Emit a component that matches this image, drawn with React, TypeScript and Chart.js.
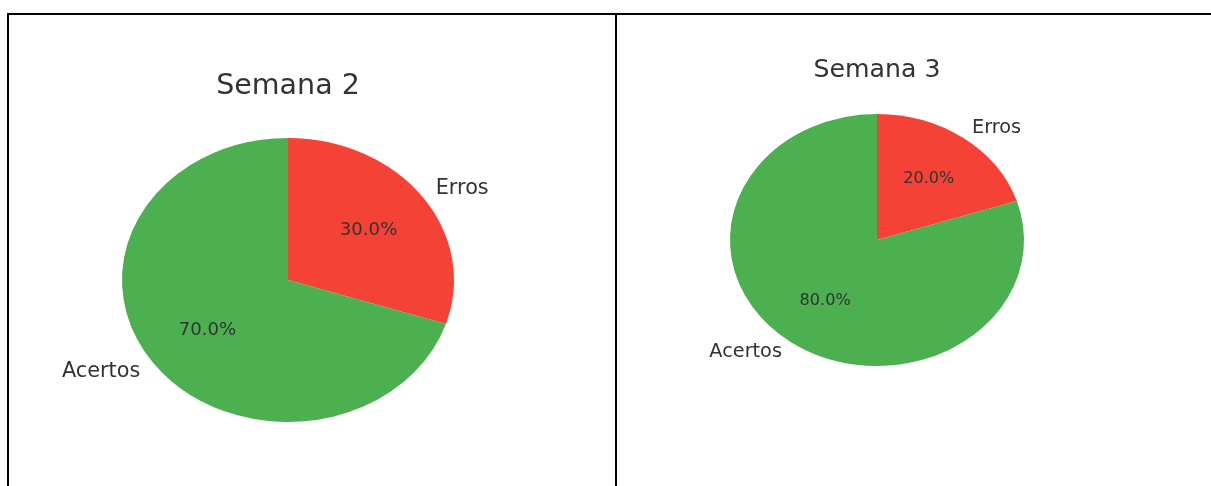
import React, { useEffect, useRef } from "react";
import { Chart, registerables } from "chart.js";

Chart.register(...registerables);

const categories = ["Erros", "Acertos"];
const semana2Values = [30, 70];
const semana3Values = [20, 80];
const titles = ["Semana 2", "Semana 3"];
const colors = ["#F44336", "#4CAF50"];

const FONT = "'DejaVu Sans', sans-serif";

type PanelCfg = {
  title: string;
  values: number[];
  width: number;
  height: number;
  padding: { left: number; right: number; top: number; bottom: number };
  titlePad: { top: number; bottom: number };
  titleSize: number;
  labelSize: number;
  pctSize: number;
  scaleY: number;
};

const ellipsePlugin = {
  id: "ellipse",
  beforeDatasetsDraw(chart: any, _a: any, opts: any) {
    const meta = chart.getDatasetMeta(0);
    const arc = meta.data[0];
    if (!arc) return;
    const ctx = chart.ctx;
    ctx.save();
    ctx.translate(arc.x, arc.y);
    ctx.scale(1, opts.scaleY);
    ctx.translate(-arc.x, -arc.y);
  },
  afterDatasetsDraw(chart: any, _a: any, opts: any) {
    const ctx = chart.ctx;
    ctx.restore();
    const meta = chart.getDatasetMeta(0);
    const data = chart.data.datasets[0].data as number[];
    const total = data.reduce((s: number, v: number) => s + v, 0);
    ctx.save();
    ctx.fillStyle = "#333333";
    meta.data.forEach((arc: any, i: number) => {
      const mid = (arc.startAngle + arc.endAngle) / 2;
      const c = Math.cos(mid);
      const s = Math.sin(mid);
      const r = arc.outerRadius;
      const lx = arc.x + r * 1.1 * c;
      const ly = arc.y + r * 1.1 * s * opts.scaleY;
      ctx.font = `${opts.labelSize}px ${FONT}`;
      ctx.textBaseline = "middle";
      ctx.textAlign = c >= 0 ? "left" : "right";
      ctx.fillText(chart.data.labels[i], lx, ly);
      const px = arc.x + r * 0.6 * c;
      const py = arc.y + r * 0.6 * s * opts.scaleY;
      ctx.font = `${opts.pctSize}px ${FONT}`;
      ctx.textAlign = "center";
      ctx.fillText(((data[i] / total) * 100).toFixed(1) + "%", px, py);
    });
    ctx.restore();
  },
};

function PiePanel({ cfg }: { cfg: PanelCfg }) {
  const ref = useRef<HTMLCanvasElement>(null);
  useEffect(() => {
    if (!ref.current) return;
    const chart = new Chart(ref.current, {
      type: "pie",
      data: {
        labels: categories,
        datasets: [
          {
            data: cfg.values,
            backgroundColor: colors,
            borderWidth: 0,
            hoverOffset: 0,
          },
        ],
      },
      options: {
        responsive: false,
        animation: false,
        devicePixelRatio: 1,
        layout: { padding: cfg.padding },
        plugins: {
          legend: { display: false },
          tooltip: { enabled: false },
          title: {
            display: true,
            text: cfg.title,
            color: "#333333",
            font: { family: FONT, size: cfg.titleSize, weight: "normal", lineHeight: 1.2 },
            padding: cfg.titlePad,
          },
          ellipse: {
            scaleY: cfg.scaleY,
            labelSize: cfg.labelSize,
            pctSize: cfg.pctSize,
          },
        } as any,
      },
      plugins: [ellipsePlugin],
    });
    return () => chart.destroy();
  }, [cfg]);
  return (
    <canvas
      ref={ref}
      width={cfg.width}
      height={cfg.height}
      style={{ display: "block", width: cfg.width, height: cfg.height }}
    />
  );
}

// Panel 1: chart area top 90, bottom 440 (center 265), width 332
const panel1: PanelCfg = {
  title: titles[0],
  values: semana2Values,
  width: 606,
  height: 471,
  padding: { left: 113, right: 161, top: 0, bottom: 31 },
  titlePad: { top: 54.4, bottom: 1.4 },
  titleSize: 28.5,
  labelSize: 20.8,
  pctSize: 18.1,
  scaleY: 142 / 166,
};

// Panel 2: chart area top 72, bottom 378 (center 225), width 294
const panel2: PanelCfg = {
  title: titles[1],
  values: semana3Values,
  width: 594,
  height: 471,
  padding: { left: 113, right: 187, top: 0, bottom: 93 },
  titlePad: { top: 39.9, bottom: 1.86 },
  titleSize: 25.2,
  labelSize: 19.3,
  pctSize: 16.1,
  scaleY: 126 / 147,
};

export default function App() {
  return (
    <div
      style={{
        position: "fixed",
        left: 7,
        top: 13,
        right: 0,
        bottom: 0,
        overflow: "hidden",
        display: "flex",
        background: "#fff",
      }}
    >
      <div
        style={{
          flex: "0 0 auto",
          width: 610,
          height: 500,
          boxSizing: "border-box",
          border: "2px solid #000",
        }}
      >
        <PiePanel cfg={panel1} />
      </div>
      <div
        style={{
          flex: "0 0 auto",
          width: 610,
          height: 500,
          boxSizing: "border-box",
          borderTop: "2px solid #000",
          borderRight: "2px solid #000",
          borderBottom: "2px solid #000",
        }}
      >
        <PiePanel cfg={panel2} />
      </div>
    </div>
  );
}
